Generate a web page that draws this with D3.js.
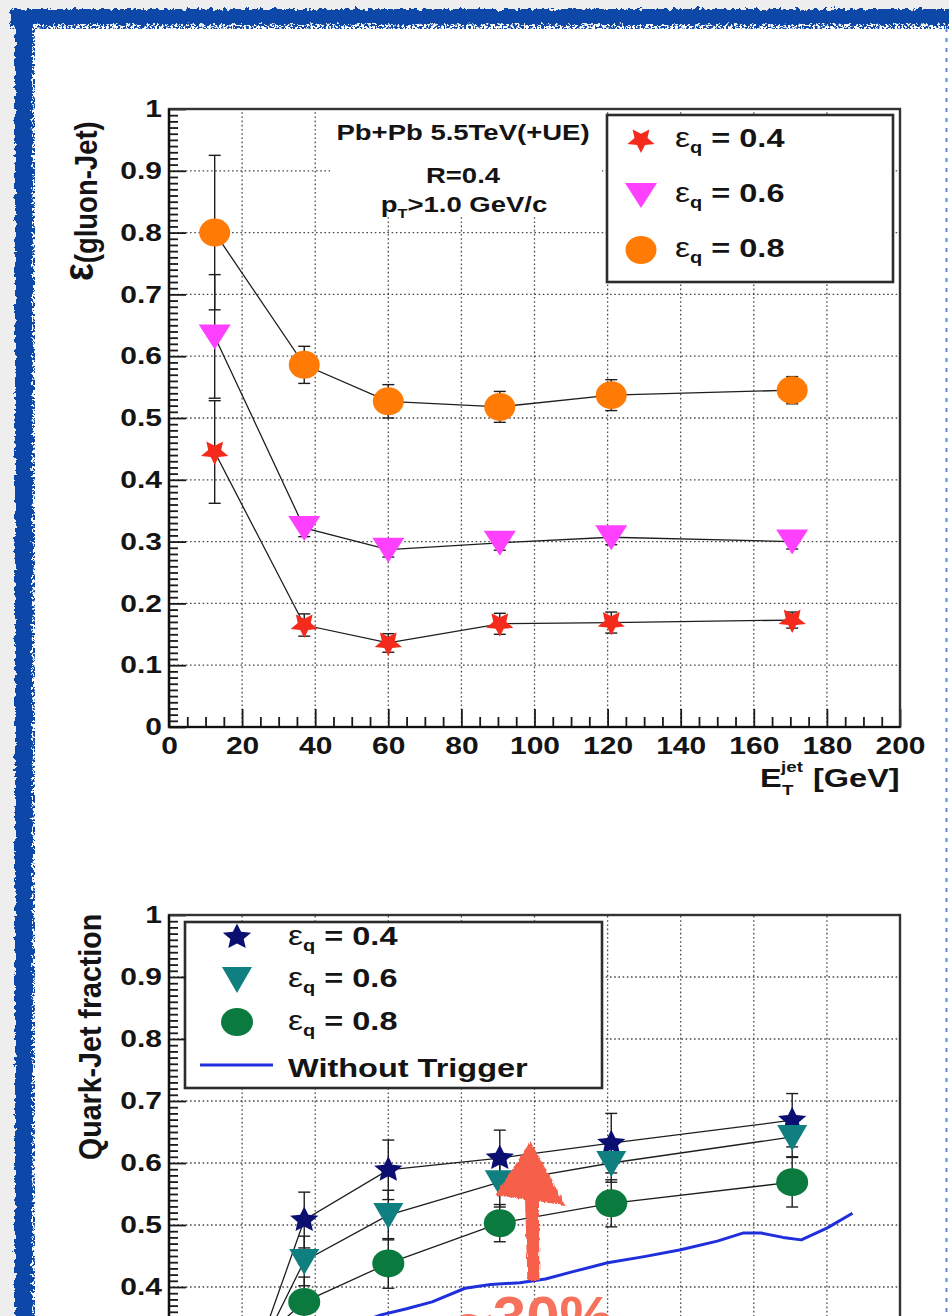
<!DOCTYPE html>
<html>
<head>
<meta charset="utf-8">
<script src="https://cdn.jsdelivr.net/npm/d3@7/dist/d3.min.js"></script>
<style>
  html, body { margin: 0; padding: 0; background: #eeeeee; }
  svg { display: block; }
  text { font-family: "Liberation Sans", Arial, Helvetica, sans-serif; font-weight: bold; fill: #141414; }
</style>
</head>
<body>
<svg id="slide" width="949" height="1316"></svg>
<script>
// ---- jet transverse energy bins [GeV]
const etJet = [12.5, 37, 60, 90.5, 121, 170.5];

// ---- gluon-jet efficiency for three quark-jet efficiencies
const gluonEffQ04 = [0.445, 0.165, 0.136, 0.167, 0.169, 0.173];
const gluonErrQ04 = [0.083, 0.018, 0.015, 0.017, 0.017, 0.013];
const gluonEffQ06 = [0.632, 0.322, 0.287, 0.298, 0.307, 0.300];
const gluonErrQ06 = [0.100, 0.014, 0.012, 0.012, 0.012, 0.012];
const gluonEffQ08 = [0.800, 0.586, 0.527, 0.518, 0.537, 0.545];
const gluonErrQ08 = [0.125, 0.030, 0.027, 0.025, 0.025, 0.022];

// ---- quark-jet fraction after the trigger
const quarkFracQ04 = [0.100, 0.508, 0.589, 0.608, 0.632, 0.669];
const quarkErrQ04  = [0.050, 0.045, 0.048, 0.045, 0.048, 0.043];
const quarkFracQ06 = [0.150, 0.442, 0.516, 0.569, 0.600, 0.642];
const quarkErrQ06  = [0.050, 0.040, 0.040, 0.040, 0.031, 0.032];
const quarkFracQ08 = [0.250, 0.376, 0.438, 0.503, 0.535, 0.569];
const quarkErrQ08  = [0.050, 0.040, 0.040, 0.030, 0.038, 0.040];

// ---- quark-jet fraction without trigger
const noTriggerEt   = [40, 50, 58, 65, 72, 81, 88, 96, 103, 110, 120, 130, 140, 150, 157, 162, 168, 173, 180, 187];
const noTriggerFrac = [0.300, 0.338, 0.355, 0.365, 0.376, 0.398, 0.404, 0.407, 0.413, 0.424, 0.439, 0.449, 0.460, 0.474, 0.487, 0.487, 0.480, 0.476, 0.495, 0.519];

// ---- axis ticks and labels
const xTickValues = [0, 20, 40, 60, 80, 100, 120, 140, 160, 180, 200];
const yTickValues = [0, 0.1, 0.2, 0.3, 0.4, 0.5, 0.6, 0.7, 0.8, 0.9, 1];
const yTickLabels = ["0", "0.1", "0.2", "0.3", "0.4", "0.5", "0.6", "0.7", "0.8", "0.9", "1"];
const xMinorValues = d3.range(0, 201, 5).filter(v => v % 20 !== 0);
const yMinorValues = d3.range(1, 100).filter(i => i % 10 !== 0).map(i => i / 100);
const legendValues = ["0.4", "0.6", "0.8"];

// ---- annotation: quark enrichment arrow
const arrowBase = { x: 99.7, y: 0.411 };
const arrowNeck = { x: 99.3, y: 0.545 };
const arrowTip  = { x: 98.9, y: 0.635 };
const arrowHeadL = { x: 89.3, y: 0.548 };
const arrowHeadR = { x: 108.5, y: 0.532 };
const arrowLabel = "~30%";

const svg = d3.select("#slide");
const W = 949, H = 1316;
const SX = 1.25;   // horizontal stretch of the glyphs

// ---------- filters
const defs = svg.append("defs");
const rough = defs.append("filter").attr("id", "rough")
  .attr("filterUnits", "userSpaceOnUse").attr("x", 0).attr("y", 0).attr("width", W).attr("height", H);
rough.append("feTurbulence").attr("type", "fractalNoise").attr("baseFrequency", 0.22)
  .attr("numOctaves", 3).attr("seed", 7).attr("result", "t");
rough.append("feDisplacementMap").attr("in", "SourceGraphic").attr("in2", "t")
  .attr("scale", 7).attr("xChannelSelector", "R").attr("yChannelSelector", "G");

const speckle = defs.append("filter").attr("id", "speckle")
  .attr("filterUnits", "userSpaceOnUse").attr("x", 0).attr("y", 0).attr("width", W).attr("height", H);
speckle.append("feTurbulence").attr("type", "fractalNoise").attr("baseFrequency", 0.45)
  .attr("numOctaves", 2).attr("seed", 3).attr("result", "n");
speckle.append("feColorMatrix").attr("in", "n").attr("type", "matrix")
  .attr("values", "0 0 0 0 0  0 0 0 0 0  0 0 0 0 0  0 0 0 14 -6.6").attr("result", "m");
speckle.append("feComposite").attr("in", "SourceGraphic").attr("in2", "m").attr("operator", "in");

const sketch = defs.append("filter").attr("id", "sketch")
  .attr("filterUnits", "userSpaceOnUse").attr("x", 0).attr("y", 0).attr("width", W).attr("height", H);
sketch.append("feTurbulence").attr("type", "fractalNoise").attr("baseFrequency", "0.5 0.12")
  .attr("numOctaves", 2).attr("seed", 11).attr("result", "t");
sketch.append("feDisplacementMap").attr("in", "SourceGraphic").attr("in2", "t")
  .attr("scale", 4).attr("xChannelSelector", "R").attr("yChannelSelector", "G");

// ---------- slide background and hand-drawn blue frame
svg.append("rect").attr("width", W).attr("height", H).attr("fill", "#eeeeee");
svg.append("rect").attr("x", 30).attr("y", 25).attr("width", W - 30).attr("height", H - 25).attr("fill", "#ffffff");

const frame = svg.append("g").attr("fill", "#0a46a8");
frame.append("rect").attr("x", 10).attr("y", 9).attr("width", W - 8).attr("height", 15).attr("filter", "url(#rough)");
frame.append("rect").attr("x", 15).attr("y", 9).attr("width", 17).attr("height", H).attr("filter", "url(#rough)");
frame.append("rect").attr("x", 10).attr("y", 21).attr("width", W - 8).attr("height", 8).attr("filter", "url(#speckle)");
frame.append("rect").attr("x", 28).attr("y", 9).attr("width", 7).attr("height", H).attr("filter", "url(#speckle)");
svg.append("line").attr("x1", 946.5).attr("x2", 946.5).attr("y1", 28).attr("y2", H)
  .attr("stroke", "#3060c0").attr("stroke-width", 2).attr("stroke-dasharray", "4 6").attr("opacity", 0.75);

// ---------- marker shapes
function starPath(R, r, flip) {
  const pts = [];
  for (let i = 0; i < 10; i++) {
    const a = (-90 + i * 36 + (flip ? 180 : 0)) * Math.PI / 180;
    const rad = i % 2 ? r : R;
    pts.push([Math.cos(a) * rad * 1.1, Math.sin(a) * rad]);
  }
  return "M" + pts.map(p => p[0].toFixed(2) + "," + p[1].toFixed(2)).join("L") + "Z";
}
function ellipsePath(rx, ry) {
  return `M${-rx},0A${rx},${ry} 0 1,0 ${rx},0A${rx},${ry} 0 1,0 ${-rx},0Z`;
}
const shapes = {
  starDown: starPath(13, 6.2, true),
  starUp: starPath(13.5, 6.4, false),
  triDown: "M-16,-12L16,-12L0,13Z",
  triDownB: "M-15,-12L15,-12L0,14Z",
  circle: ellipsePath(15.5, 14),
  circleB: ellipsePath(16, 14)
};

// ---------- generic stretched text helper
function label(parent, x, y, parts, opts = {}) {
  const t = parent.append("text")
    .attr("transform", `translate(${x},${y}) scale(${opts.sx || SX},${opts.sy || 1})`)
    .attr("text-anchor", opts.anchor || "start")
    .attr("font-size", opts.size || 24);
  parts.forEach(p => {
    const s = t.append("tspan").text(p.text);
    if (p.size) s.attr("font-size", p.size);
    if (p.dy) s.attr("dy", p.dy);
    if (p.weight) s.attr("font-weight", p.weight);
  });
  return t;
}
function epsLabel(parent, x, y, val) {
  return label(parent, x, y, [
    { text: "ε", weight: "normal", size: 27 },
    { text: "q", size: 16, dy: 6 },
    { text: " = " + val, dy: -6 }
  ], { size: 26 });
}

// ---------- one plot panel
function drawPanel(cfg) {
  const { x, y, series } = cfg;
  const g = svg.append("g");
  const [x0, x1] = x.range();
  const [y0, y1] = y.range();

  const clipId = cfg.id + "-clip";
  defs.append("clipPath").attr("id", clipId).append("rect")
    .attr("x", x0).attr("y", y1).attr("width", x1 - x0).attr("height", y0 - y1);

  // dotted grid
  const grid = g.append("g").attr("stroke", "#4a4a4a").attr("stroke-width", 1.3)
    .attr("stroke-dasharray", "1.6 2.6");
  grid.selectAll("line.v").data(xTickValues.filter(v => v > 0 && v < 200)).join("line")
    .attr("class", "v").attr("x1", d => x(d)).attr("x2", d => x(d)).attr("y1", y(0)).attr("y2", y(1));
  grid.selectAll("line.h").data(yTickValues.filter(v => v > 0 && v < 1)).join("line")
    .attr("class", "h").attr("x1", x(0)).attr("x2", x(200)).attr("y1", d => y(d)).attr("y2", d => y(d));

  // text pave and legend backgrounds
  if (cfg.pave) {
    g.append("rect").attr("x", cfg.pave.x).attr("y", cfg.pave.y).attr("width", cfg.pave.w)
      .attr("height", cfg.pave.h).attr("fill", "#fff");
  }
  const L = cfg.legend;
  g.append("rect").attr("x", L.x).attr("y", L.y).attr("width", L.w).attr("height", L.h)
    .attr("fill", "#fff").attr("stroke", "#2c2c2c").attr("stroke-width", 2.6);

  const plot = g.append("g").attr("clip-path", `url(#${clipId})`);

  // extra curve (without trigger)
  if (cfg.curve) {
    plot.append("path")
      .datum(cfg.curve.x.map((v, i) => [v, cfg.curve.y[i]]))
      .attr("fill", "none").attr("stroke", cfg.curve.color).attr("stroke-width", 3)
      .attr("stroke-linejoin", "round")
      .attr("d", d3.line().x(d => x(d[0])).y(d => y(d[1])));
  }

  // connecting lines
  const line = d3.line().x(d => x(d.x)).y(d => y(d.y));
  series.forEach(s => {
    const pts = etJet.map((v, i) => ({ x: v, y: s.vals[i], e: s.errs[i] }));
    s.pts = pts;
    plot.append("path").datum(pts).attr("fill", "none").attr("stroke", "#1e1e1e")
      .attr("stroke-width", 1.3).attr("d", line);
  });
  // error bars
  series.forEach(s => {
    const eb = plot.append("g").attr("stroke", "#1e1e1e").attr("stroke-width", 1.4);
    eb.selectAll("line.bar").data(s.pts).join("line").attr("class", "bar")
      .attr("x1", d => x(d.x)).attr("x2", d => x(d.x))
      .attr("y1", d => y(d.y - d.e)).attr("y2", d => y(d.y + d.e));
    [-1, 1].forEach(sgn => {
      eb.selectAll("line.cap" + (sgn > 0 ? "p" : "m")).data(s.pts).join("line")
        .attr("class", "cap" + (sgn > 0 ? "p" : "m"))
        .attr("x1", d => x(d.x) - 6).attr("x2", d => x(d.x) + 6)
        .attr("y1", d => y(d.y + sgn * d.e)).attr("y2", d => y(d.y + sgn * d.e));
    });
  });
  // markers
  series.forEach(s => {
    plot.append("g").selectAll("path").data(s.pts).join("path")
      .attr("d", shapes[s.shape]).attr("fill", s.color)
      .attr("transform", d => `translate(${x(d.x)},${y(d.y)})`);
  });

  // legend entries
  series.forEach((s, i) => {
    const cy = L.rows[i];
    g.append("path").attr("d", shapes[s.shape]).attr("fill", s.color)
      .attr("transform", `translate(${L.mx},${cy})`);
    epsLabel(g, L.tx, cy + L.base, s.label);
  });
  if (cfg.curve) {
    const cy = L.rows[3];
    g.append("line").attr("x1", L.mx - 37).attr("x2", L.mx + 36).attr("y1", cy).attr("y2", cy)
      .attr("stroke", cfg.curve.color).attr("stroke-width", 3);
    label(g, L.tx, cy + 12, [{ text: cfg.curve.label }], { size: 26 });
  }

  // axes with inward ticks
  const yFmt = d => yTickLabels[yTickValues.indexOf(d)];
  const ax = g.append("g");
  const yMaj = ax.append("g").attr("transform", `translate(${x0},0)`)
    .call(d3.axisLeft(y).tickValues(yTickValues).tickFormat(yFmt).tickSize(-17).tickSizeOuter(0).tickPadding(7));
  ax.append("g").attr("transform", `translate(${x0},0)`)
    .call(d3.axisLeft(y).tickValues(yMinorValues).tickFormat("").tickSize(-9).tickSizeOuter(0));
  const xMaj = ax.append("g").attr("transform", `translate(0,${y0})`)
    .call(d3.axisBottom(x).tickValues(xTickValues).tickSize(-18).tickSizeOuter(0).tickPadding(10));
  ax.append("g").attr("transform", `translate(0,${y0})`)
    .call(d3.axisBottom(x).tickValues(xMinorValues).tickFormat("").tickSize(-10).tickSizeOuter(0));
  ax.selectAll(".domain").remove();
  ax.selectAll(".tick line").attr("stroke", "#1a1a1a").attr("stroke-width", 1.8);
  yMaj.selectAll("text").attr("font-size", 24).attr("fill", "#141414")
    .attr("x", 0).attr("transform", `translate(-7,0) scale(${SX},1)`);
  xMaj.selectAll("text").attr("font-size", 24).attr("fill", "#141414")
    .attr("transform", `scale(${SX},1)`);
  ax.selectAll("g").attr("font-family", null).attr("font-size", null);
  // tick labels that fall below the page are not drawn
  yMaj.selectAll(".tick").filter(d => y(d) > H - 8).select("text").remove();
  if (y0 > H) xMaj.selectAll(".tick text").remove();

  // frame
  g.append("rect").attr("x", x0).attr("y", y1).attr("width", x1 - x0).attr("height", y0 - y1)
    .attr("fill", "none").attr("stroke", "#333").attr("stroke-width", 2.4);
  g.append("line").attr("x1", x0).attr("x2", x0).attr("y1", y1).attr("y2", y0)
    .attr("stroke", "#111").attr("stroke-width", 2.2);
  g.append("line").attr("x1", x0).attr("x2", x1).attr("y1", y0).attr("y2", y0)
    .attr("stroke", "#111").attr("stroke-width", 2.2);
  return g;
}

// ---------- upper panel: gluon-jet efficiency
const xTop = d3.scaleLinear().domain([0, 200]).range([169, 900]);
const yTop = d3.scaleLinear().domain([0, 1]).range([727, 109]);
const topPanel = drawPanel({
  id: "gluon", x: xTop, y: yTop,
  pave: { x: 330, y: 111, w: 272, h: 106 },
  legend: { x: 607, y: 115, w: 286, h: 167, rows: [140, 195, 250], mx: 641, tx: 675, base: 7 },
  series: [
    { label: legendValues[0], vals: gluonEffQ04, errs: gluonErrQ04, shape: "starDown", color: "#f42a1d" },
    { label: legendValues[1], vals: gluonEffQ06, errs: gluonErrQ06, shape: "triDown", color: "#ff40ff" },
    { label: legendValues[2], vals: gluonEffQ08, errs: gluonErrQ08, shape: "circle", color: "#ff7b06" }
  ]
});
label(topPanel, 463, 140, [{ text: "Pb+Pb 5.5TeV(+UE)" }], { size: 22, anchor: "middle" });
label(topPanel, 463, 183, [{ text: "R=0.4" }], { size: 22, anchor: "middle" });
label(topPanel, 464, 212, [
  { text: "p" }, { text: "T", size: 13, dy: 6 }, { text: ">1.0 GeV/c", dy: -6 }
], { size: 22, anchor: "middle" });

// axis titles of the upper panel
topPanel.append("text").attr("transform", "translate(93,281) rotate(-90) scale(1.1,1.25)")
  .call(t => {
    t.append("tspan").attr("font-size", 34).text("ε");
    t.append("tspan").attr("font-size", 25).attr("dy", 3).text("(gluon-Jet)");
  });
label(topPanel, 760, 787, [{ text: "E" }], { size: 26 });
label(topPanel, 782, 795, [{ text: "T" }], { size: 15 });
label(topPanel, 781, 772, [{ text: "jet" }], { size: 15 });
label(topPanel, 813, 787, [{ text: "[GeV]" }], { size: 26 });

// ---------- lower panel: quark-jet fraction
const xBot = d3.scaleLinear().domain([0, 200]).range([169, 900]);
const yBot = d3.scaleLinear().domain([0, 1]).range([1535, 915]);
const bottomPanel = drawPanel({
  id: "quark", x: xBot, y: yBot,
  legend: { x: 185, y: 922, w: 417, h: 166, rows: [937, 979, 1022, 1065], mx: 237, tx: 288, base: 8 },
  curve: { x: noTriggerEt, y: noTriggerFrac, color: "#1f2fdc", label: "Without Trigger" },
  series: [
    { label: legendValues[0], vals: quarkFracQ04, errs: quarkErrQ04, shape: "starUp", color: "#0c0f72" },
    { label: legendValues[1], vals: quarkFracQ06, errs: quarkErrQ06, shape: "triDownB", color: "#0f7f80" },
    { label: legendValues[2], vals: quarkFracQ08, errs: quarkErrQ08, shape: "circleB", color: "#0a7a3e" }
  ]
});
bottomPanel.append("text").attr("transform", "translate(101,1160) rotate(-90) scale(1.1,1.2)")
  .attr("font-size", 26).text("Quark-Jet fraction");

// ---------- enrichment arrow and label
const ann = svg.append("g").attr("filter", "url(#sketch)");
const bx = xBot(arrowBase.x), by = yBot(arrowBase.y);
const nx = xBot(arrowNeck.x), ny = yBot(arrowNeck.y);
ann.append("path").attr("fill", "#f6604b")
  .attr("d", `M${bx - 6},${by}L${bx + 6},${by}L${nx + 7},${ny}L${nx - 7},${ny}Z`);
ann.append("path").attr("fill", "#f6604b")
  .attr("d", `M${xBot(arrowHeadL.x)},${yBot(arrowHeadL.y)}L${xBot(arrowTip.x)},${yBot(arrowTip.y)}L${xBot(arrowHeadR.x)},${yBot(arrowHeadR.y)}Z`);
svg.append("text").attr("x", xBot(79)).attr("y", by + 58)
  .attr("font-size", 60).style("fill", "#f7725c").text(arrowLabel);
</script>
</body>
</html>
